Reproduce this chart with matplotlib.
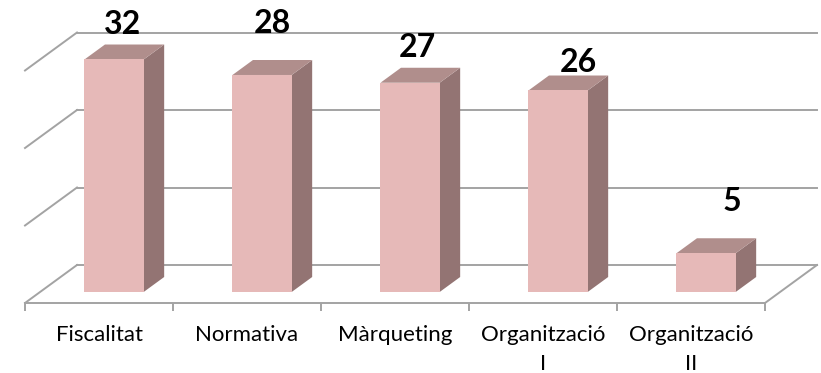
import matplotlib
matplotlib.use("Agg")
import matplotlib.pyplot as plt
from matplotlib.patches import Polygon

# Data
categories = ["Fiscalitat", "Normativa", "Màrqueting", "Organització\nI", "Organització\nII"]
values = [32, 28, 27, 26, 5]
gridline_values = [0, 10, 20, 30]
axis_max = 30

# Layout / style
label_offsets = [(-1.5, 19.5), (0, 32), (-2, 20), (7, 15), (11.5, 32)]  # points
face_front = "#E6B9B8"
face_top = "#B08E8C"
face_side = "#937473"
grid_color = "#A3A3A3"

W, H = 821, 373
PX_CAT = 148.0      # pixels per category
PX_VAL = 7.75       # pixels per value unit
X0_PX, Y0_PX = 25.0, 303.0
DX = 52.0 / PX_CAT  # oblique depth shift (category units)
DY = 38.0 / PX_VAL  # oblique depth shift (value units)

fig = plt.figure(figsize=(W / 100, H / 100), dpi=100)
ax = fig.add_axes([0, 0, 1, 1])
ax.set_xlim(-X0_PX / PX_CAT, (W - X0_PX) / PX_CAT)
ax.set_ylim(-(H - Y0_PX) / PX_VAL, Y0_PX / PX_VAL)
ax.set_facecolor("white")
for s in ["top", "right", "left"]:
    ax.spines[s].set_visible(False)


def proj(x, v, d):
    return (x + d * DX, v + d * DY)


n = len(categories)

# Back wall gridlines and left wall diagonals
for g in gridline_values:
    a = proj(0, g, 1)
    b = proj(n, g, 1)
    ax.plot([a[0], b[0]], [a[1], b[1]], color=grid_color, lw=1.4, zorder=1)
    c = proj(0, g, 0)
    ax.plot([c[0], a[0]], [c[1], a[1]], color=grid_color, lw=1.4, zorder=1)

# Floor right edge
a = proj(n, 0, 0)
b = proj(n, 0, 1)
ax.plot([a[0], b[0]], [a[1], b[1]], color=grid_color, lw=1.4, zorder=1)

# Front floor line as the category axis
ax.spines["bottom"].set_position(("data", 0))
ax.spines["bottom"].set_bounds(0, n)
ax.spines["bottom"].set_color(grid_color)
ax.spines["bottom"].set_linewidth(1.4)
ax.set_yticks([])
ax.set_xticks(range(n + 1))
ax.set_xticklabels([])
ax.tick_params(axis="x", which="major", direction="out", length=5.8,
               width=1.4, color=grid_color)
ax.set_xticks([i + 0.5 for i in range(n)], minor=True)
ax.set_xticklabels(categories, minor=True, fontfamily="Lato", fontsize=16,
                   color="black", linespacing=1.55)
ax.tick_params(axis="x", which="minor", length=0, pad=16)

# 3D bars
w = 0.4
d0, d1 = 0.29, 0.684
for i, v in enumerate(values):
    h = min(v, axis_max)
    x0 = i + 0.5 - w / 2
    x1 = x0 + w
    front = [proj(x0, 0, d0), proj(x1, 0, d0), proj(x1, h, d0), proj(x0, h, d0)]
    top = [proj(x0, h, d0), proj(x1, h, d0), proj(x1, h, d1), proj(x0, h, d1)]
    side = [proj(x1, 0, d0), proj(x1, 0, d1), proj(x1, h, d1), proj(x1, h, d0)]
    ax.add_patch(Polygon(side, closed=True, facecolor=face_side, edgecolor="none", zorder=3))
    ax.add_patch(Polygon(top, closed=True, facecolor=face_top, edgecolor="none", zorder=3))
    ax.add_patch(Polygon(front, closed=True, facecolor=face_front, edgecolor="none", zorder=4))
    dm = (d0 + d1) / 2
    anchor = proj(i + 0.5, h, dm)
    ax.annotate(str(v), xy=anchor, xytext=label_offsets[i], textcoords="offset points",
                ha="center", va="center", fontsize=23, fontweight="bold",
                fontfamily="Lato", color="black", zorder=5)

fig.savefig("out.png", dpi=100, facecolor="white")
